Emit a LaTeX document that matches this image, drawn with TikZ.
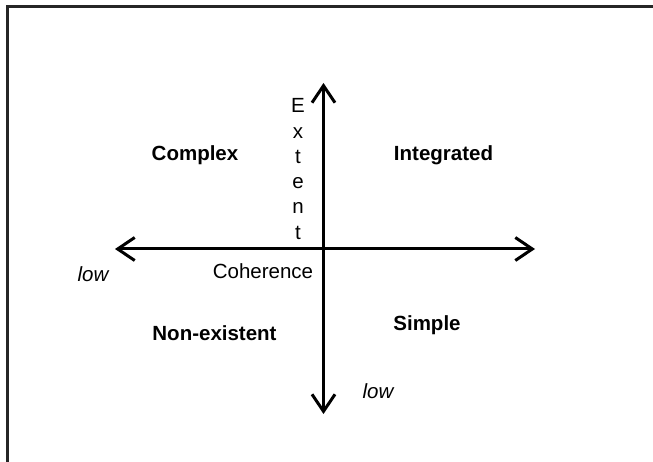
\documentclass[tikz,border=0pt]{standalone}
\usepackage{fontspec}
\setmainfont{Liberation Sans}
\usetikzlibrary{arrows.meta}

\begin{document}
\begin{tikzpicture}[
    x=1pt, y=-1pt,
    axis/.style={-{Straight Barb[length=17pt,width=23pt]}, line width=3pt, draw=black},
    frame/.style={line width=3pt, draw=black!85},
    quad/.style={font=\fontsize{20.5}{24}\selectfont\bfseries},
    lbl/.style={font=\fontsize{20.5}{24}\selectfont},
    lowlbl/.style={font=\fontsize{20.5}{24}\selectfont\itshape}
]
    \useasboundingbox (0,0) rectangle (653,462);

    % frame: only top and left edges
    \draw[frame] (7,462) -- (7,7) -- (653,7);

    % axis ends
    \coordinate (origin) at (323.5,249);
    \coordinate (west) at (115,249);
    \coordinate (east) at (535,249);
    \coordinate (north) at (323.5,83);
    \coordinate (south) at (323.5,414);

    \draw[axis] (origin) -- (west);
    \draw[axis] (origin) -- (east);
    \draw[axis] (origin) -- (north);
    \draw[axis] (origin) -- (south);

    % quadrants
    \node[quad] (complex) at (195,155) {Complex};
    \node[quad] (integ) at (443.5,155) {Integrated};
    \node[quad] (nonex) at (214.5,333) {Non-existent};
    \node[quad] (simple) at (427,325) {Simple};

    % axis labels
    \node[lbl] (coh) at (263,271) {Coherence};
    \node[lowlbl] (lowx) at (93,274) {low};
    \node[lowlbl] (lowy) at (378,391) {low};
    \node[lbl, align=center, font=\fontsize{20.5}{25.3}\selectfont] (extent) at (298,169)
        {E\\x\\t\\e\\n\\t};
\end{tikzpicture}
\end{document}
